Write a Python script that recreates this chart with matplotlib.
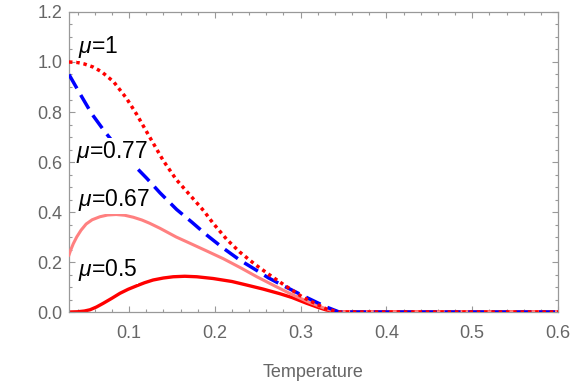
# Order parameter vs temperature for several mu values

import numpy as np
import matplotlib.pyplot as plt
from matplotlib.ticker import MultipleLocator, FormatStrFormatter

plt.rcParams['font.family'] = ['Liberation Sans', 'DejaVu Sans']
plt.rcParams['mathtext.fontset'] = 'custom'
plt.rcParams['mathtext.rm'] = 'Liberation Sans'
plt.rcParams['mathtext.it'] = 'Liberation Sans:italic'

# mu = 1 (red dotted)
t_mu1 = [0.03, 0.04, 0.048, 0.058, 0.068, 0.082, 0.097, 0.109, 0.124, 0.14, 0.155, 0.173,
         0.187, 0.198, 0.214, 0.229, 0.247, 0.264, 0.28, 0.303, 0.33, 0.345, 0.6]
y_mu1 = [1.0, 0.998, 0.992, 0.98, 0.961, 0.921, 0.855, 0.79, 0.70, 0.605, 0.53, 0.46,
         0.405, 0.355, 0.29, 0.24, 0.19, 0.148, 0.11, 0.058, 0.012, 0.0, 0.0]

# mu = 0.77 (blue dashed)
t_mu077 = [0.03, 0.043, 0.0565, 0.072, 0.088, 0.105, 0.1206, 0.136, 0.1555, 0.173,
           0.1905, 0.21, 0.229, 0.249, 0.2623, 0.28, 0.307, 0.33, 0.345, 0.6]
y_mu077 = [0.95, 0.872, 0.793, 0.72, 0.652, 0.59, 0.535, 0.477, 0.41, 0.36,
           0.308, 0.255, 0.208, 0.166, 0.137, 0.105, 0.058, 0.02, 0.0, 0.0]

# mu = 0.67 (pink solid)
t_mu067 = [0.03, 0.032, 0.035, 0.039, 0.044, 0.05, 0.057, 0.066, 0.075, 0.085, 0.095,
           0.105, 0.115, 0.124, 0.136, 0.155, 0.171, 0.19, 0.21, 0.23, 0.249, 0.27,
           0.29, 0.31, 0.33, 0.345, 0.6]
y_mu067 = [0.228, 0.248, 0.273, 0.30, 0.327, 0.352, 0.369, 0.381, 0.388, 0.39, 0.387,
           0.379, 0.368, 0.355, 0.335, 0.30, 0.275, 0.245, 0.213, 0.177, 0.141, 0.104,
           0.07, 0.039, 0.012, 0.0, 0.0]

# mu = 0.5 (red solid)
t_mu05 = [0.03, 0.04, 0.048, 0.0545, 0.062, 0.07, 0.08, 0.0895, 0.099, 0.109, 0.118, 0.128,
          0.14, 0.1515, 0.165, 0.179, 0.198, 0.22, 0.237, 0.256, 0.276, 0.29, 0.307,
          0.32, 0.33, 0.345, 0.6]
y_mu05 = [0.0, 0.001, 0.004, 0.009, 0.02, 0.035, 0.055, 0.075, 0.091, 0.105, 0.117, 0.128,
          0.136, 0.141, 0.143, 0.141, 0.134, 0.122, 0.108, 0.092, 0.073, 0.058, 0.035,
          0.019, 0.008, 0.0, 0.0]

labels = [r'$\mu$=1', r'$\mu$=0.77', r'$\mu$=0.67', r'$\mu$=0.5']
label_pos = [(0.0405, 1.06), (0.038, 0.64), (0.0405, 0.448), (0.0405, 0.168)]

fig = plt.figure(figsize=(5.73, 3.82), dpi=100)
ax = fig.add_axes([0.1204, 0.1832, 0.8534, 0.7854])

ax.plot(t_mu05, y_mu05, color='#ff0000', lw=2.4, zorder=2)
ax.plot(t_mu067, y_mu067, color='#ff8080', lw=2.2, zorder=3)
ax.plot(t_mu077, y_mu077, color='#0000ff', lw=2.5, ls=(0, (4.6, 2.2)), zorder=4)
ax.plot(t_mu1, y_mu1, color='#ff0000', lw=2.5, ls=(0, (1, 1.1)), zorder=5)

for lab, (x, y) in zip(labels, label_pos):
    ax.text(x, y, lab, fontsize=16.5, color='black', va='center', ha='left',
            zorder=6, bbox=dict(facecolor='white', edgecolor='none', pad=0.5))

ax.set_xlim(0.03, 0.6)
ax.set_ylim(0, 1.2)
ax.xaxis.set_major_locator(MultipleLocator(0.1))
ax.xaxis.set_minor_locator(MultipleLocator(0.02))
ax.yaxis.set_major_locator(MultipleLocator(0.2))
ax.yaxis.set_minor_locator(MultipleLocator(0.05))
ax.xaxis.set_major_formatter(FormatStrFormatter('%.1f'))
ax.yaxis.set_major_formatter(FormatStrFormatter('%.1f'))

gray = '#999999'
for s in ax.spines.values():
    s.set_color(gray)
    s.set_linewidth(0.9)
ax.tick_params(which='both', direction='in', top=True, right=True, color=gray,
               width=0.8, labelcolor='#666666', labelsize=13)
ax.tick_params(which='major', length=4.5)
ax.tick_params(which='minor', length=2.5)
ax.tick_params(axis='x', which='major', pad=9.5)
ax.tick_params(axis='y', which='major', pad=4.5)

ax.set_xlabel('Temperature', fontsize=13, color='#666666', labelpad=16)

fig.savefig('out.png', dpi=100)
